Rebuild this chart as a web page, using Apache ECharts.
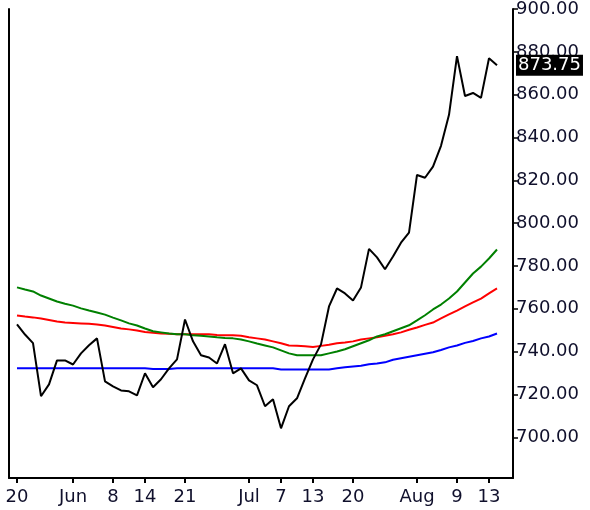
<!DOCTYPE html>
<html>
<head>
<meta charset="utf-8">
<script src="https://cdn.jsdelivr.net/npm/echarts@6/dist/echarts.min.js"></script>
<style>
html,body{margin:0;padding:0;background:#fff;}
#chart{width:590px;height:510px;}
</style>
</head>
<body>
<div id="chart"></div>
<script>
// tick labels for each trading day ('' = no tick)
const dateLabels = ['20','','','','','','','Jun','','','','','8','','','','14','','','','','21','','','','','','','','Jul','','','','7','','','','13','','','','','20','','','','','','','','Aug','','','','','9','','','','13',''];

const price = [752.7,748,744,719.2,724.7,735.9,735.9,734,739.2,743,746.2,726.1,723.8,721.9,721.5,719.6,729.9,723.4,727.1,732.2,736.4,755,744.8,738.3,737.3,734.5,743.5,729.9,732.2,726.6,724.3,714.5,717.8,704.2,714.5,718.2,727.5,736.4,743.4,761.1,769.5,767.2,763.9,770,788,784,778.5,784.4,790.9,795.6,822.5,821.2,826.4,836.1,850.6,878,859.4,860.8,858.5,877,873.75];

const maGreen = [770,769,768.1,766.2,764.8,763.4,762.4,761.5,760.2,759.2,758.3,757.3,755.9,754.6,753.2,752.2,750.8,749.5,749,748.5,748.1,748.1,747.6,747.4,747.1,746.7,746.4,746.2,745.7,744.8,743.8,742.9,742,740.6,739.2,738.3,738.3,738.3,738.3,739.2,740.1,741.1,742.5,743.9,745.3,747.1,748.1,749.5,750.9,752.3,754.6,757,759.7,762,764.8,768.1,772.3,776.5,779.7,783.5,787.7];

const maRed = [756.9,756.4,756,755.5,754.8,754.1,753.6,753.4,753.2,753,752.7,752.2,751.5,750.8,750.4,749.9,749.2,748.8,748.5,748.3,748.1,748.1,748.1,748.1,748.1,747.8,747.6,747.6,747.4,746.7,746.2,745.7,744.8,743.9,742.9,742.7,742.5,742.2,742.7,743.2,743.9,744.3,744.8,745.7,746.2,746.7,747.4,748.1,749,750.2,751.3,752.5,753.6,755.5,757.4,759.2,761.1,763,764.8,767.2,769.5];

const maBlue = [732.2,732.2,732.2,732.2,732.2,732.2,732.2,732.2,732.2,732.2,732.2,732.2,732.2,732.2,732.2,732.2,732.2,731.9,731.9,731.9,732.2,732.2,732.2,732.2,732.2,732.2,732.2,732.2,732.2,732.2,732.2,732.2,732.2,731.7,731.7,731.7,731.7,731.7,731.7,731.7,732.2,732.7,733.1,733.4,734.1,734.5,735,736.2,736.9,737.6,738.3,739,739.7,740.8,742,742.9,744.1,745,746.2,747.1,748.5];

const yTicks = [700,720,740,760,780,800,820,840,860,880,900];

// one blank slot before the data and two after it
const cats = [''].concat(dateLabels, ['', '']);
const pad = arr => [null].concat(arr, [null, null]);

const FONT = 'DejaVu Sans';
const TXT = '#10102c';

const chart = echarts.init(document.getElementById('chart'), null, {renderer: 'canvas'});
chart.setOption({
  animation: false,
  backgroundColor: '#fff',
  grid: {left: 9, right: 77, top: 7, bottom: 32, containLabel: false},
  xAxis: {
    type: 'category',
    data: cats,
    boundaryGap: false,
    axisLine: {show: true, lineStyle: {color: '#000', width: 2}},
    axisTick: {show: true, length: 5, lineStyle: {color: '#000', width: 2},
      interval: (i, v) => v !== ''},
    axisLabel: {show: true, interval: (i, v) => v !== '', color: TXT,
      fontFamily: FONT, fontSize: 18, margin: 10},
    splitLine: {show: false}
  },
  yAxis: [{
    type: 'value',
    position: 'right',
    min: 681, max: 900,
    scale: true,
    axisLine: {show: true, onZero: false, lineStyle: {color: '#000', width: 2}},
    axisTick: {show: true, length: 5, lineStyle: {color: '#000', width: 1.5}, customValues: yTicks},
    axisLabel: {show: true, color: TXT, fontFamily: FONT, fontSize: 18, margin: 3,
      customValues: yTicks, formatter: v => v.toFixed(2)},
    splitLine: {show: false}
  }, {
    type: 'value',
    position: 'left',
    min: 681, max: 900,
    axisLine: {show: true, onZero: false, lineStyle: {color: '#000', width: 2}},
    axisTick: {show: false},
    axisLabel: {show: false},
    splitLine: {show: false}
  }],
  series: [
    {name: 'MA long', type: 'line', data: pad(maBlue), symbol: 'none',
      lineStyle: {color: '#0000ff', width: 2}, itemStyle: {color: '#0000ff'}},
    {name: 'MA mid', type: 'line', data: pad(maRed), symbol: 'none',
      lineStyle: {color: '#ff0000', width: 2}, itemStyle: {color: '#ff0000'}},
    {name: 'MA short', type: 'line', data: pad(maGreen), symbol: 'none',
      lineStyle: {color: '#008000', width: 2}, itemStyle: {color: '#008000'}},
    {name: 'Price', type: 'line', data: pad(price), symbol: 'none',
      lineStyle: {color: '#000', width: 2}, itemStyle: {color: '#000'},
      endLabel: {show: true, distance: 19, color: '#fff', backgroundColor: '#000',
        fontFamily: FONT, fontSize: 18, padding: [2, 2, 1, 2],
        formatter: p => Number(p.value).toFixed(2)}}
  ]
});
</script>
</body>
</html>
